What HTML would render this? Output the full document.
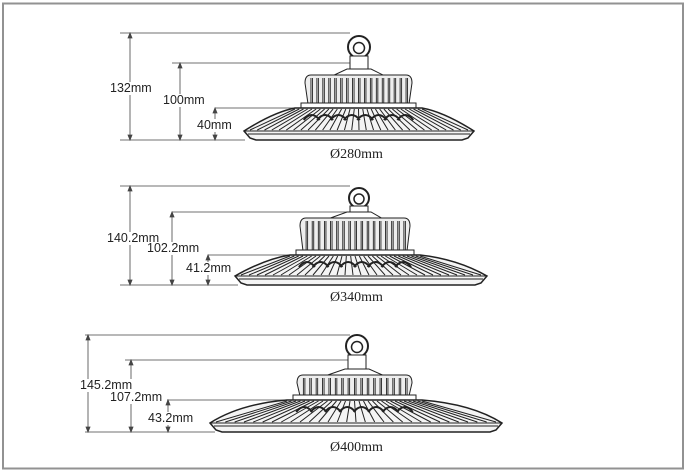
<!DOCTYPE html>
<html><head><style>
html,body{margin:0;padding:0;background:#fff}
#c{position:relative;width:688px;height:473px;overflow:hidden}
.t{position:absolute;font-family:"Liberation Sans",sans-serif;font-size:12.5px;color:#222;white-space:nowrap;background:#fff;line-height:13px}
.d{position:absolute;font-family:"Liberation Serif",serif;font-size:14px;color:#222}
</style></head><body><div id="c">
<svg id="s" width="688" height="473" style="position:absolute;left:0;top:0">
<rect x="3" y="3.5" width="680" height="465" fill="none" stroke="#929292" stroke-width="2"/>
<g stroke="#444" stroke-width="0.8" fill="none" id="dims">
<path d="M120 33H350M172 63H350M215 108H305M120 140H245M130 33V140M180 63V140M215 108V140"/>
<path d="M120 186H350M172 212H352M208 255H300M120 285H238M130 186V285M172 212V285M208 255V285"/>
<path d="M85 335H350M125 360H350M167 400H297M85 432H215M88 335V432M131 360V432M168 400V432"/>
</g>
<g id="lamps"></g>
</svg>
<div class="t" style="left:110px;top:82px">132mm</div>
<div class="t" style="left:163px;top:94px">100mm</div>
<div class="t" style="left:197px;top:119px">40mm</div>
<div class="d" style="left:330px;top:147px">Ø280mm</div>
<div class="t" style="left:107px;top:232px">140.2mm</div>
<div class="t" style="left:147px;top:242px">102.2mm</div>
<div class="t" style="left:186px;top:262px">41.2mm</div>
<div class="d" style="left:330px;top:290px">Ø340mm</div>
<div class="t" style="left:80px;top:379px">145.2mm</div>
<div class="t" style="left:110px;top:391px">107.2mm</div>
<div class="t" style="left:148px;top:412px">43.2mm</div>
<div class="d" style="left:330px;top:440px">Ø400mm</div>
</div>
<script>
var NS="http://www.w3.org/2000/svg",G=document.getElementById("lamps"),D=document.getElementById("dims");
function el(p,n,a){var e=document.createElementNS(NS,n);for(var k in a)e.setAttribute(k,a[k]);p.appendChild(e);return e;}
function arrows(x,y1,y2){el(D,"path",{d:"M"+(x-2)+" "+(y1+5)+"L"+x+" "+y1+"L"+(x+2)+" "+(y1+5)+"Z M"+(x-2)+" "+(y2-5)+"L"+x+" "+y2+"L"+(x+2)+" "+(y2-5)+"Z",fill:"#444"});}
[[130,33,140],[180,63,140],[215,108,140],[130,186,285],[172,212,285],[208,255,285],[88,335,432],[131,360,432],[168,400,432]].forEach(function(a){arrows(a[0],a[1],a[2]);});
function lamp(cx,ry,r,ht,hl,hr,dt,dl,dr,db){
 var g=el(G,"g",{stroke:"#222","stroke-width":"1",fill:"#fff"});
 el(g,"circle",{cx:cx,cy:ry,r:r,"stroke-width":"2"});
 el(g,"circle",{cx:cx,cy:ry+1,r:r*0.5,"stroke-width":"1.5"});
 el(g,"rect",{x:cx-9,y:ry+r-2,width:18,height:ht-(ry+r)-4});
 el(g,"path",{d:"M"+(hl+25)+" "+(ht+2)+"L"+(cx-12)+" "+(ht-6)+"L"+(cx+12)+" "+(ht-6)+"L"+(hr-25)+" "+(ht+2)});
 el(g,"path",{d:"M"+(hl+6)+" "+ht+"L"+(hr-6)+" "+ht+"Q"+hr+" "+ht+" "+hr+" "+(ht+8)+"L"+(hr-3)+" "+(dt-4)+"L"+(hl+3)+" "+(dt-4)+"L"+hl+" "+(ht+8)+"Q"+hl+" "+ht+" "+(hl+6)+" "+ht+"Z",fill:"#eee"});
 var n=18,s="";for(var i=1;i<n;i++){var x=hl+(hr-hl)*i/n;s+="M"+x+" "+(ht+3)+"L"+x+" "+(dt-5)+"M"+(x+1.5)+" "+(ht+3)+"L"+(x+1.5)+" "+(dt-5);}
 el(g,"path",{d:s,"stroke-width":"0.9"});
 el(g,"rect",{x:hl-4,y:dt-5,width:hr-hl+8,height:5});
 var rimT=db-9;
 el(g,"path",{d:"M"+(hl-10)+" "+dt+"L"+(hr+10)+" "+dt+"Q"+(dr-30)+" "+(dt+4)+" "+dr+" "+rimT+"L"+(dr-6)+" "+(db-2)+"L"+(dr-12)+" "+db+"L"+(dl+12)+" "+db+"L"+(dl+6)+" "+(db-2)+"L"+dl+" "+rimT+"Q"+(dl+30)+" "+(dt+4)+" "+(hl-10)+" "+dt+"Z",fill:"#f4f4f4","stroke-width":"1.5"});
 el(g,"path",{d:"M"+dl+" "+rimT+"L"+dr+" "+rimT+"M"+(dl+4)+" "+(rimT+3)+"L"+(dr-4)+" "+(rimT+3),"stroke-width":"1"});
 var m=30,t="";for(var j=0;j<=m;j++){var f=j/m,xt=hl-10+(hr-hl+20)*f,xb=dl+6+(dr-dl-12)*f;t+="M"+xt+" "+(dt+1)+"L"+xb+" "+(rimT-1);}
 el(g,"path",{d:t,"stroke-width":"1"});
 var k=8,u="";for(var q=0;q<k;q++){var x0=hl+(hr-hl)*(q+0.5)/k;u+="M"+(x0-8)+" "+(dt+12)+"Q"+x0+" "+(dt+2)+" "+(x0+8)+" "+(dt+12);}
 el(g,"path",{d:u,"stroke-width":"2",fill:"none"});
}
lamp(359,47,11,75,305,412,108,244,474,140);
lamp(359,198,10,218,300,410,255,235,487,285);
lamp(357,346,11,375,297,412,400,210,502,432);
</script>
</body></html>
